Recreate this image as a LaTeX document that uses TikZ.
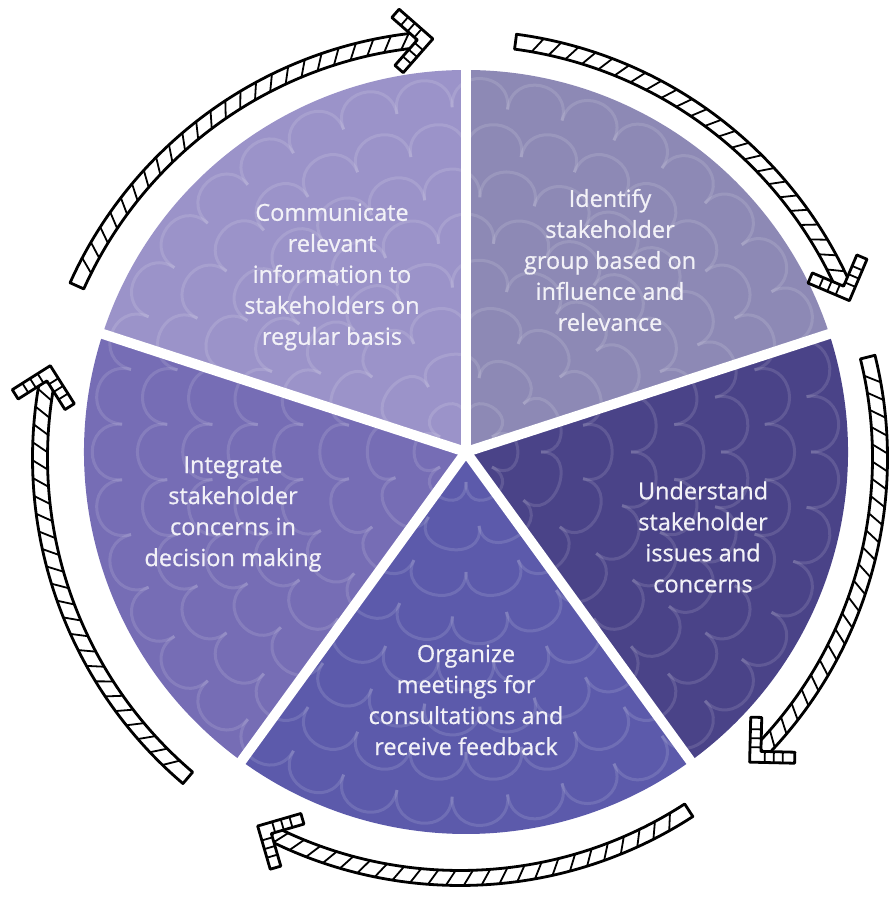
\documentclass[tikz,border=0pt]{standalone}
\usepackage{fontspec}
\setmainfont{Open Sans}[FakeBold=0.7]

\definecolor{commcol}{HTML}{9B93C9}
\definecolor{identcol}{HTML}{8D89B5}
\definecolor{undercol}{HTML}{4A4388}
\definecolor{organcol}{HTML}{5C5AAB}
\definecolor{integcol}{HTML}{766DB5}
\definecolor{labelcol}{HTML}{F2F1F7}

\tikzset{
  steptext/.style={text=labelcol, align=center, font=\fontsize{23.5}{31}\selectfont},
  scallop/.style={draw=white, opacity=0.12, line width=3pt},
  arrowline/.style={draw=black, line width=2.8pt, line join=round, fill=white},
  hatchline/.style={draw=black, line width=1.8pt},
}

% #1 start angle, #2 end angle, #3 radius (clockwise arrow)
\newcommand{\sketcharrow}[3]{%
  \pgfmathsetmacro{\shaftend}{#2+2.3}
  \pgfmathsetmacro{\rin}{#3-7.5}
  \pgfmathsetmacro{\rout}{#3+7.5}
  \pgfmathtruncatemacro{\nhatch}{(#1-\shaftend)/2.4}
  \draw[arrowline] (#1:\rin) arc[start angle=#1, end angle=\shaftend, radius=\rin]
    -- (\shaftend:\rout) arc[start angle=\shaftend, end angle=#1, radius=\rout] -- cycle;
  \foreach \h in {1,...,\nhatch} {
    \pgfmathsetmacro{\ha}{#1-\h*2.4}
    \draw[hatchline] (\ha:\rin) -- (\ha-1.3:\rout);
  }
  \begin{scope}[shift={(#2:#3)}, rotate=#2-90]
    \draw[arrowline] (0,0) -- (-31.8,31.8) -- (-39.6,24) -- (-15.6,0)
      -- (-39.6,-24) -- (-31.8,-31.8) -- cycle;
    \foreach \t in {15,24,33} {
      \draw[hatchline] (135:\t) -- ++(-7.8,-7.8);
      \draw[hatchline] (225:\t) -- ++(-7.8,7.8);
    }
  \end{scope}
}

\begin{document}
\begin{tikzpicture}[x=1pt, y=1pt]
  \useasboundingbox (0,0) rectangle (893,899);

  \begin{scope}[shift={(466,447)}]
    \fill[commcol] (0,0) -- (90:382) arc[start angle=90, end angle=162, radius=382] -- cycle;
    \fill[integcol] (0,0) -- (162:382) arc[start angle=162, end angle=234, radius=382] -- cycle;
    \fill[organcol] (0,0) -- (234:382) arc[start angle=234, end angle=306, radius=382] -- cycle;
    \fill[undercol] (0,0) -- (306:382) arc[start angle=306, end angle=378, radius=382] -- cycle;
    \fill[identcol] (0,0) -- (18:382) arc[start angle=18, end angle=90, radius=382] -- cycle;
    \begin{scope}
      \clip (0,0) circle[radius=382];
      \foreach \r [count=\k] in {30,75,...,390} {
        \pgfmathtruncatemacro{\n}{max(6,round(2*pi*\r/55))}
        \pgfmathsetmacro{\da}{360/\n}
        \pgfmathsetmacro{\off}{mod(\k,2)*\da/2}
        \foreach \i in {1,...,\n} {
          \draw[scallop] (\off+\i*\da:\r) .. controls (\off+\i*\da:\r+40)
            and (\off+\i*\da+\da:\r+40) .. (\off+\i*\da+\da:\r);
        }
      }
    \end{scope}
    \foreach \a in {18,90,162,234,306}
      \draw[white, line width=10pt] (0,0) -- (\a:400);
  \end{scope}

  \node[steptext] (comm) at (332,622) {Communicate\\relevant\\information to\\stakeholders on\\regular basis};
  \node[steptext] (ident) at (610,639) {Identify\\stakeholder\\group based on\\influence and\\relevance};
  \node[steptext] (under) at (703,362) {Understand\\stakeholder\\issues and\\concerns};
  \node[steptext] (organ) at (466,199) {Organize\\meetings for\\consultations and\\receive feedback};
  \node[steptext] (integ) at (233,385) {Integrate\\stakeholder\\concerns in\\decision making};

  \begin{scope}[shift={(460,441)}]
    \sketcharrow{155.8}{93.7}{420}
    \sketcharrow{82.4}{22}{420}
    \sketcharrow{13.9}{-46.4}{420}
    \sketcharrow{-57}{-118.8}{420}
    \sketcharrow{229.6}{167.3}{420}
  \end{scope}
\end{tikzpicture}
\end{document}
